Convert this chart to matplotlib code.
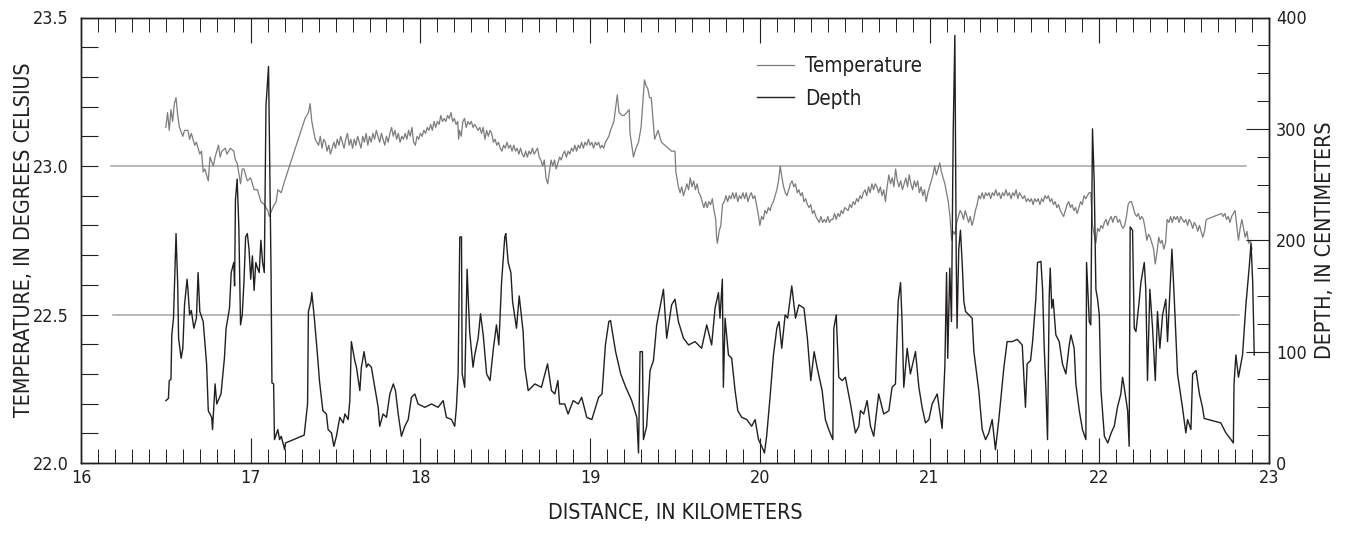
import matplotlib
matplotlib.use("Agg")
from matplotlib import pyplot as plt
from matplotlib import font_manager
from matplotlib.ticker import MultipleLocator

# temperature trace as (km, deg C)
temp_points = [
    (16.50, 23.13), (16.51, 23.18), (16.52, 23.12), (16.53, 23.19), (16.54, 23.15), (16.55, 23.21),
    (16.56, 23.23), (16.57, 23.17), (16.58, 23.13), (16.60, 23.10), (16.61, 23.12), (16.63, 23.12),
    (16.64, 23.09), (16.65, 23.11), (16.67, 23.07), (16.68, 23.08), (16.70, 23.04), (16.71, 23.05),
    (16.72, 22.98), (16.73, 22.99), (16.75, 22.95), (16.76, 23.03), (16.78, 23.00), (16.79, 23.03),
    (16.81, 23.07), (16.82, 23.03), (16.83, 23.05), (16.85, 23.06), (16.86, 23.04), (16.88, 23.06),
    (16.90, 23.05), (16.91, 23.02), (16.92, 23.01), (16.94, 22.94), (16.95, 22.99), (16.96, 22.99),
    (16.98, 22.95), (17.00, 22.96), (17.02, 22.92), (17.04, 22.92), (17.06, 22.88), (17.08, 22.87),
    (17.10, 22.85), (17.11, 22.83), (17.13, 22.86), (17.15, 22.88), (17.16, 22.92), (17.18, 22.91),
    (17.20, 22.95), (17.32, 23.16), (17.34, 23.18), (17.35, 23.21), (17.36, 23.15), (17.38, 23.09),
    (17.40, 23.07), (17.41, 23.10), (17.42, 23.06), (17.43, 23.09), (17.44, 23.08), (17.45, 23.05),
    (17.46, 23.07), (17.47, 23.04), (17.48, 23.06), (17.49, 23.08), (17.50, 23.06), (17.51, 23.09),
    (17.52, 23.07), (17.53, 23.10), (17.54, 23.08), (17.55, 23.06), (17.56, 23.09), (17.57, 23.11),
    (17.58, 23.07), (17.59, 23.09), (17.60, 23.06), (17.61, 23.09), (17.62, 23.07), (17.63, 23.10),
    (17.64, 23.08), (17.65, 23.06), (17.66, 23.10), (17.67, 23.08), (17.68, 23.11), (17.69, 23.07),
    (17.70, 23.10), (17.71, 23.08), (17.72, 23.11), (17.73, 23.09), (17.74, 23.12), (17.75, 23.10),
    (17.76, 23.08), (17.77, 23.11), (17.78, 23.09), (17.79, 23.07), (17.80, 23.10), (17.81, 23.08),
    (17.82, 23.11), (17.83, 23.13), (17.84, 23.10), (17.85, 23.12), (17.86, 23.09), (17.87, 23.11),
    (17.88, 23.08), (17.89, 23.10), (17.90, 23.09), (17.91, 23.11), (17.92, 23.09), (17.93, 23.12),
    (17.94, 23.10), (17.95, 23.13), (17.96, 23.08), (17.97, 23.07), (17.98, 23.10), (17.99, 23.09),
    (18.00, 23.11), (18.01, 23.10), (18.02, 23.12), (18.03, 23.11), (18.04, 23.13), (18.05, 23.12),
    (18.06, 23.14), (18.07, 23.12), (18.08, 23.15), (18.09, 23.13), (18.10, 23.15), (18.11, 23.14),
    (18.12, 23.17), (18.13, 23.15), (18.14, 23.16), (18.15, 23.15), (18.16, 23.17), (18.17, 23.16),
    (18.18, 23.18), (18.19, 23.15), (18.20, 23.16), (18.21, 23.14), (18.22, 23.15), (18.225, 23.09),
    (18.23, 23.12), (18.24, 23.10), (18.25, 23.15), (18.26, 23.16), (18.27, 23.13), (18.28, 23.15),
    (18.29, 23.14), (18.30, 23.15), (18.31, 23.13), (18.32, 23.14), (18.33, 23.13), (18.34, 23.12),
    (18.35, 23.13), (18.36, 23.11), (18.37, 23.13), (18.38, 23.09), (18.39, 23.12), (18.40, 23.10),
    (18.41, 23.12), (18.42, 23.11), (18.43, 23.08), (18.44, 23.09), (18.45, 23.07), (18.46, 23.08),
    (18.47, 23.06), (18.48, 23.05), (18.49, 23.07), (18.50, 23.06), (18.51, 23.08), (18.52, 23.06),
    (18.53, 23.07), (18.54, 23.05), (18.55, 23.07), (18.56, 23.05), (18.57, 23.06), (18.58, 23.04),
    (18.59, 23.06), (18.60, 23.04), (18.61, 23.03), (18.62, 23.05), (18.63, 23.03), (18.64, 23.05),
    (18.65, 23.04), (18.66, 23.06), (18.67, 23.04), (18.68, 23.05), (18.69, 23.06), (18.70, 23.03),
    (18.71, 23.02), (18.72, 23.00), (18.73, 23.02), (18.74, 22.96), (18.75, 22.94), (18.76, 22.98),
    (18.77, 23.02), (18.78, 23.00), (18.79, 23.02), (18.80, 22.99), (18.81, 23.01), (18.82, 23.03),
    (18.83, 23.02), (18.84, 23.04), (18.85, 23.05), (18.86, 23.03), (18.87, 23.05), (18.88, 23.04),
    (18.89, 23.06), (18.90, 23.05), (18.91, 23.07), (18.92, 23.05), (18.93, 23.07), (18.94, 23.06),
    (18.95, 23.08), (18.96, 23.06), (18.97, 23.08), (18.98, 23.07), (18.99, 23.09), (19.00, 23.07),
    (19.01, 23.08), (19.02, 23.06), (19.03, 23.08), (19.04, 23.07), (19.05, 23.08), (19.06, 23.06),
    (19.07, 23.07), (19.08, 23.06), (19.09, 23.08), (19.10, 23.09), (19.11, 23.10), (19.12, 23.12),
    (19.14, 23.15), (19.16, 23.24), (19.17, 23.18), (19.19, 23.17), (19.20, 23.17), (19.23, 23.19),
    (19.235, 23.11), (19.255, 23.03), (19.27, 23.06), (19.285, 23.08), (19.30, 23.13), (19.32, 23.29),
    (19.33, 23.27), (19.34, 23.26), (19.35, 23.23), (19.36, 23.23), (19.38, 23.09), (19.40, 23.12),
    (19.42, 23.08), (19.44, 23.07), (19.46, 23.06), (19.48, 23.05), (19.50, 23.05), (19.505, 22.98),
    (19.52, 22.93), (19.53, 22.91), (19.54, 22.93), (19.55, 22.90), (19.56, 22.92), (19.57, 22.94),
    (19.58, 22.92), (19.59, 22.96), (19.60, 22.93), (19.61, 22.95), (19.62, 22.92), (19.63, 22.94),
    (19.64, 22.91), (19.65, 22.90), (19.66, 22.88), (19.67, 22.86), (19.68, 22.88), (19.69, 22.86),
    (19.70, 22.88), (19.71, 22.87), (19.72, 22.89), (19.73, 22.85), (19.74, 22.82), (19.745, 22.76),
    (19.75, 22.74), (19.76, 22.78), (19.77, 22.80), (19.78, 22.87), (19.79, 22.88), (19.80, 22.90),
    (19.81, 22.88), (19.82, 22.90), (19.83, 22.89), (19.84, 22.91), (19.85, 22.89), (19.86, 22.91),
    (19.87, 22.88), (19.88, 22.90), (19.89, 22.89), (19.90, 22.91), (19.91, 22.89), (19.92, 22.91),
    (19.93, 22.88), (19.94, 22.90), (19.95, 22.91), (19.96, 22.89), (19.97, 22.90), (19.98, 22.87),
    (19.99, 22.84), (20.00, 22.80), (20.01, 22.83), (20.02, 22.82), (20.03, 22.85), (20.04, 22.84),
    (20.05, 22.86), (20.06, 22.85), (20.07, 22.87), (20.08, 22.88), (20.09, 22.90), (20.10, 22.92),
    (20.11, 22.95), (20.12, 23.00), (20.13, 22.96), (20.14, 22.93), (20.15, 22.91), (20.16, 22.90),
    (20.17, 22.92), (20.18, 22.94), (20.19, 22.95), (20.20, 22.93), (20.21, 22.94), (20.22, 22.91),
    (20.23, 22.92), (20.24, 22.90), (20.25, 22.91), (20.26, 22.88), (20.27, 22.89), (20.28, 22.87),
    (20.29, 22.86), (20.30, 22.87), (20.31, 22.84), (20.32, 22.85), (20.33, 22.83), (20.34, 22.82),
    (20.35, 22.81), (20.36, 22.83), (20.37, 22.81), (20.38, 22.82), (20.39, 22.81), (20.40, 22.83),
    (20.41, 22.81), (20.42, 22.82), (20.43, 22.82), (20.44, 22.84), (20.45, 22.82), (20.46, 22.84),
    (20.47, 22.83), (20.48, 22.85), (20.49, 22.84), (20.50, 22.86), (20.52, 22.85), (20.53, 22.87),
    (20.54, 22.86), (20.55, 22.88), (20.56, 22.87), (20.57, 22.89), (20.58, 22.88), (20.59, 22.90),
    (20.60, 22.89), (20.61, 22.91), (20.62, 22.92), (20.63, 22.90), (20.64, 22.93), (20.65, 22.91),
    (20.66, 22.94), (20.67, 22.92), (20.68, 22.94), (20.69, 22.93), (20.70, 22.91), (20.71, 22.93),
    (20.72, 22.90), (20.73, 22.92), (20.74, 22.88), (20.75, 22.93), (20.76, 22.97), (20.77, 22.94),
    (20.78, 22.96), (20.79, 22.93), (20.80, 22.99), (20.81, 22.95), (20.82, 22.93), (20.83, 22.95),
    (20.84, 22.92), (20.85, 22.94), (20.86, 22.96), (20.87, 22.93), (20.88, 22.97), (20.89, 22.94),
    (20.90, 22.92), (20.91, 22.95), (20.92, 22.93), (20.93, 22.95), (20.94, 22.91), (20.95, 22.93),
    (20.96, 22.90), (20.97, 22.92), (20.98, 22.88), (20.99, 22.91), (21.00, 22.93), (21.01, 22.95),
    (21.02, 22.97), (21.03, 23.00), (21.04, 22.97), (21.05, 22.99), (21.06, 23.01), (21.07, 22.98),
    (21.08, 22.96), (21.09, 22.94), (21.10, 22.91), (21.11, 22.88), (21.12, 22.83), (21.13, 22.75),
    (21.14, 22.78), (21.15, 22.77), (21.16, 22.81), (21.17, 22.83), (21.18, 22.85), (21.19, 22.84),
    (21.20, 22.82), (21.21, 22.85), (21.22, 22.83), (21.23, 22.81), (21.24, 22.83), (21.25, 22.80),
    (21.26, 22.82), (21.27, 22.85), (21.28, 22.87), (21.29, 22.90), (21.30, 22.89), (21.31, 22.91),
    (21.32, 22.89), (21.33, 22.91), (21.34, 22.90), (21.35, 22.91), (21.36, 22.89), (21.37, 22.91),
    (21.38, 22.90), (21.39, 22.92), (21.40, 22.90), (21.41, 22.91), (21.42, 22.89), (21.43, 22.91),
    (21.44, 22.90), (21.45, 22.92), (21.46, 22.90), (21.47, 22.91), (21.48, 22.89), (21.49, 22.91),
    (21.50, 22.90), (21.51, 22.92), (21.52, 22.89), (21.53, 22.91), (21.54, 22.90), (21.55, 22.89),
    (21.56, 22.90), (21.57, 22.88), (21.58, 22.89), (21.59, 22.88), (21.60, 22.89), (21.61, 22.87),
    (21.62, 22.89), (21.63, 22.88), (21.64, 22.89), (21.65, 22.87), (21.66, 22.89), (21.67, 22.88),
    (21.68, 22.90), (21.69, 22.89), (21.70, 22.90), (21.71, 22.88), (21.72, 22.89), (21.73, 22.87),
    (21.74, 22.88), (21.75, 22.86), (21.76, 22.87), (21.77, 22.85), (21.78, 22.84), (21.79, 22.83),
    (21.80, 22.85), (21.81, 22.87), (21.82, 22.88), (21.83, 22.86), (21.84, 22.87), (21.85, 22.85),
    (21.86, 22.86), (21.87, 22.84), (21.88, 22.86), (21.89, 22.88), (21.90, 22.87), (21.91, 22.90),
    (21.92, 22.89), (21.93, 22.90), (21.94, 22.91), (21.95, 22.91), (21.96, 22.80), (21.97, 22.77),
    (21.98, 22.74), (21.99, 22.79), (22.00, 22.78), (22.01, 22.80), (22.02, 22.79), (22.03, 22.81),
    (22.04, 22.82), (22.05, 22.80), (22.06, 22.82), (22.07, 22.83), (22.08, 22.81), (22.09, 22.83),
    (22.10, 22.83), (22.11, 22.81), (22.12, 22.82), (22.13, 22.80), (22.14, 22.79), (22.15, 22.80),
    (22.16, 22.83), (22.17, 22.87), (22.18, 22.88), (22.19, 22.88), (22.20, 22.86), (22.21, 22.84),
    (22.22, 22.83), (22.23, 22.84), (22.24, 22.82), (22.25, 22.83), (22.26, 22.82), (22.27, 22.79),
    (22.28, 22.75), (22.29, 22.77), (22.30, 22.76), (22.31, 22.74), (22.32, 22.72), (22.33, 22.67),
    (22.34, 22.71), (22.35, 22.76), (22.36, 22.74), (22.37, 22.75), (22.38, 22.72), (22.39, 22.74),
    (22.40, 22.82), (22.41, 22.81), (22.42, 22.83), (22.43, 22.81), (22.44, 22.83), (22.45, 22.82),
    (22.46, 22.83), (22.47, 22.81), (22.48, 22.83), (22.49, 22.82), (22.50, 22.81), (22.51, 22.82),
    (22.52, 22.80), (22.53, 22.82), (22.54, 22.81), (22.55, 22.79), (22.56, 22.81), (22.57, 22.80),
    (22.58, 22.78), (22.59, 22.80), (22.60, 22.78), (22.61, 22.76), (22.62, 22.78), (22.63, 22.82),
    (22.72, 22.84), (22.73, 22.83), (22.74, 22.84), (22.75, 22.82), (22.76, 22.83), (22.77, 22.81),
    (22.78, 22.83), (22.79, 22.84), (22.80, 22.85), (22.81, 22.80), (22.82, 22.75), (22.83, 22.79),
    (22.84, 22.82), (22.85, 22.79), (22.86, 22.76), (22.87, 22.78), (22.88, 22.74), (22.89, 22.75),
    (22.90, 22.72),
]

# depth trace as (km, cm)
depth_points = [
    (16.50, 56), (16.515, 58), (16.52, 74), (16.53, 75), (16.535, 115), (16.545, 130), (16.56, 206),
    (16.57, 159), (16.575, 112), (16.59, 94), (16.60, 103), (16.61, 142), (16.625, 165), (16.63, 156),
    (16.64, 133), (16.65, 137), (16.665, 121), (16.68, 130), (16.69, 171), (16.70, 136), (16.72, 127),
    (16.74, 89), (16.75, 47), (16.77, 41), (16.775, 30), (16.79, 71), (16.80, 53), (16.825, 62),
    (16.845, 94), (16.855, 121), (16.875, 139), (16.885, 171), (16.90, 180), (16.905, 159), (16.91, 236),
    (16.92, 255), (16.93, 212), (16.94, 124), (16.95, 133), (16.96, 162), (16.97, 203), (16.98, 206),
    (16.99, 192), (17.00, 165), (17.01, 186), (17.02, 155), (17.03, 180), (17.04, 175), (17.05, 171),
    (17.06, 200), (17.07, 180), (17.08, 171), (17.09, 321), (17.105, 356), (17.12, 168), (17.125, 72),
    (17.135, 71), (17.14, 21), (17.16, 30), (17.17, 21), (17.18, 24), (17.20, 12), (17.205, 18),
    (17.315, 25), (17.335, 53), (17.34, 136), (17.355, 145), (17.36, 153), (17.375, 130), (17.395, 94),
    (17.405, 74), (17.425, 47), (17.446, 44), (17.456, 30), (17.476, 27), (17.49, 15), (17.505, 24),
    (17.525, 41), (17.545, 36), (17.555, 44), (17.574, 39), (17.584, 56), (17.593, 109), (17.613, 92),
    (17.623, 86), (17.643, 65), (17.652, 86), (17.668, 100), (17.682, 86), (17.692, 89), (17.711, 86),
    (17.731, 68), (17.751, 50), (17.76, 33), (17.78, 44), (17.80, 41), (17.82, 62), (17.84, 71),
    (17.853, 65), (17.869, 44), (17.888, 24), (17.908, 33), (17.928, 39), (17.947, 59), (17.967, 62),
    (17.986, 53), (18.026, 50), (18.065, 53), (18.104, 50), (18.134, 56), (18.153, 41), (18.183, 39),
    (18.202, 33), (18.212, 50), (18.222, 80), (18.232, 203), (18.242, 203), (18.246, 80), (18.261, 68),
    (18.275, 174), (18.29, 118), (18.31, 86), (18.32, 97), (18.34, 112), (18.354, 134), (18.37, 115),
    (18.39, 80), (18.41, 74), (18.43, 103), (18.448, 124), (18.462, 106), (18.478, 162), (18.497, 203),
    (18.503, 206), (18.517, 180), (18.533, 171), (18.543, 145), (18.566, 121), (18.582, 150),
    (18.605, 118), (18.615, 86), (18.635, 65), (18.655, 68), (18.674, 71), (18.713, 68), (18.749, 89),
    (18.772, 65), (18.792, 62), (18.81, 74), (18.82, 53), (18.85, 53), (18.87, 44), (18.90, 56),
    (18.93, 53), (18.95, 59), (18.98, 41), (19.01, 39), (19.05, 59), (19.07, 62), (19.09, 106),
    (19.11, 127), (19.12, 128), (19.15, 100), (19.18, 80), (19.21, 68), (19.245, 56), (19.275, 41),
    (19.285, 9), (19.294, 100), (19.308, 100), (19.314, 21), (19.333, 33), (19.353, 83), (19.373, 92),
    (19.392, 124), (19.418, 145), (19.432, 156), (19.451, 112), (19.48, 142), (19.50, 147), (19.52, 127),
    (19.55, 112), (19.58, 106), (19.618, 109), (19.657, 103), (19.687, 124), (19.716, 106), (19.736, 139),
    (19.756, 153), (19.765, 130), (19.779, 165), (19.785, 68), (19.795, 130), (19.815, 97), (19.834, 94),
    (19.854, 65), (19.87, 47), (19.893, 41), (19.923, 39), (19.952, 33), (19.972, 39), (19.992, 21),
    (20.011, 15), (20.027, 9), (20.04, 24), (20.06, 59), (20.08, 97), (20.10, 121), (20.113, 127),
    (20.129, 103), (20.149, 133), (20.164, 130), (20.188, 159), (20.21, 130), (20.23, 142), (20.26, 139),
    (20.28, 112), (20.30, 74), (20.32, 100), (20.337, 86), (20.367, 65), (20.386, 39), (20.406, 30),
    (20.43, 21), (20.436, 121), (20.45, 133), (20.465, 77), (20.485, 74), (20.504, 77), (20.534, 53),
    (20.563, 27), (20.583, 33), (20.593, 47), (20.612, 44), (20.632, 56), (20.652, 33), (20.671, 24),
    (20.70, 62), (20.73, 44), (20.76, 47), (20.779, 68), (20.799, 71), (20.815, 145), (20.829, 162),
    (20.838, 127), (20.848, 68), (20.868, 103), (20.887, 80), (20.917, 100), (20.937, 68), (20.956, 50),
    (20.976, 36), (20.996, 39), (21.015, 53), (21.045, 62), (21.074, 31), (21.09, 86), (21.10, 171),
    (21.107, 94), (21.119, 175), (21.129, 127), (21.139, 295), (21.149, 384), (21.157, 183), (21.162, 121),
    (21.172, 192), (21.182, 209), (21.192, 180), (21.202, 145), (21.212, 136), (21.251, 130), (21.261, 100),
    (21.29, 65), (21.31, 30), (21.33, 21), (21.349, 27), (21.369, 39), (21.388, 12), (21.408, 39),
    (21.438, 86), (21.457, 109), (21.487, 109), (21.516, 111), (21.546, 106), (21.565, 50), (21.575, 89),
    (21.595, 92), (21.607, 109), (21.626, 147), (21.636, 180), (21.656, 181), (21.666, 156), (21.675, 106),
    (21.685, 68), (21.695, 21), (21.705, 150), (21.711, 175), (21.72, 139), (21.728, 147), (21.744, 115),
    (21.764, 109), (21.783, 89), (21.803, 80), (21.823, 106), (21.833, 115), (21.852, 103), (21.862, 71),
    (21.882, 47), (21.901, 30), (21.921, 21), (21.925, 180), (21.941, 127), (21.95, 124), (21.96, 300),
    (21.97, 253), (21.98, 156), (21.99, 147), (22.00, 133), (22.01, 65), (22.03, 24), (22.05, 18),
    (22.07, 27), (22.088, 33), (22.107, 50), (22.127, 62), (22.137, 77), (22.147, 68), (22.167, 47),
    (22.176, 15), (22.182, 212), (22.196, 209), (22.206, 121), (22.216, 118), (22.235, 145), (22.245, 162),
    (22.265, 180), (22.274, 156), (22.284, 74), (22.298, 156), (22.314, 121), (22.33, 74), (22.343, 136),
    (22.357, 103), (22.373, 133), (22.392, 147), (22.402, 109), (22.428, 192), (22.442, 147), (22.461, 80),
    (22.49, 50), (22.51, 27), (22.52, 39), (22.54, 30), (22.55, 80), (22.57, 83), (22.59, 62),
    (22.608, 50), (22.618, 40), (22.716, 36), (22.746, 27), (22.776, 21), (22.79, 18), (22.794, 71),
    (22.805, 97), (22.82, 77), (22.844, 97), (22.864, 142), (22.884, 177), (22.894, 197), (22.904, 162),
    (22.913, 97),
]

temp_km, temp_c = zip(*temp_points)
depth_km, depth_cm = zip(*depth_points)

# reference lines on the temperature axis
ref_levels = [23.0, 22.5]
ref_start = [16.177, 16.189]
ref_end = [22.865, 22.824]

# pick a narrow sans if one is installed
fonts = font_manager.fontManager.ttflist
names = {f.name for f in fonts}
stretch = "normal"
if "Liberation Sans Narrow" in names:
    fam, k = "Liberation Sans Narrow", 1.0
elif any(f.name == "DejaVu Sans" and f.stretch == "condensed" for f in fonts):
    fam, k, stretch = "DejaVu Sans", 0.9, "condensed"
else:
    fam, k = "Liberation Sans", 0.84
plt.rcParams["font.family"] = [fam, "DejaVu Sans"]
plt.rcParams["font.stretch"] = stretch

ink = "#231f20"
fig = plt.figure(figsize=(13.46, 5.33), dpi=100)
ax = fig.add_axes([81 / 1346, 1 - 463 / 533, 1188 / 1346, 445.5 / 533])
ax2 = ax.twinx()

for lvl, a, b in zip(ref_levels, ref_start, ref_end):
    ax.plot([a, b], [lvl, lvl], color="#a6a6a6", lw=1.1, zorder=1)

ax.plot(temp_km, temp_c, color="#7c7c7c", lw=0.9, label="Temperature", zorder=2)
ax2.plot(depth_km, depth_cm, color=ink, lw=1.0, label="Depth", zorder=3)

ax.set_xlim(16, 23)
ax.set_ylim(22.0, 23.5)
ax2.set_ylim(0, 400)

ax.xaxis.set_major_locator(MultipleLocator(1))
ax.xaxis.set_minor_locator(MultipleLocator(0.1))
ax.yaxis.set_major_locator(MultipleLocator(0.5))
ax.yaxis.set_minor_locator(MultipleLocator(0.1))
ax.yaxis.set_major_formatter(plt.FormatStrFormatter("%.1f"))
ax2.yaxis.set_major_locator(MultipleLocator(100))
ax2.yaxis.set_minor_locator(MultipleLocator(25))

tick_fs = 14.3 * k
ax.tick_params(axis="x", which="major", direction="in", length=18, width=0.8, top=True,
               labelsize=tick_fs, pad=4.5, colors=ink)
ax.tick_params(axis="x", which="minor", direction="in", length=10, width=0.7, top=True, colors=ink)
ax.tick_params(axis="y", which="both", direction="in", length=12, width=0.8, right=False,
               labelsize=tick_fs, pad=9, colors=ink)
ax2.tick_params(axis="y", which="major", direction="in", length=16.5, width=0.8,
                labelsize=tick_fs, pad=5, colors=ink)
ax2.tick_params(axis="y", which="minor", direction="in", length=8.5, width=0.7, colors=ink)

for a in (ax, ax2):
    for s in a.spines.values():
        s.set_linewidth(1.0)
        s.set_color(ink)

h1, l1 = ax.get_legend_handles_labels()
h2, l2 = ax2.get_legend_handles_labels()
ax2.legend(h1 + h2, l1 + l2, loc="upper left", bbox_to_anchor=(0.569, 0.913), frameon=False,
           fontsize=16.5 * k, handlelength=1.8, handletextpad=0.55, labelspacing=0.6,
           borderpad=0, borderaxespad=0, labelcolor=ink)

fig.text(675 / 1346, 1 - 513 / 533, "DISTANCE, IN KILOMETERS", ha="center", va="center",
         fontsize=17 * k, color=ink)
fig.text(24 / 1346, 1 - 240 / 533, "TEMPERATURE, IN DEGREES CELSIUS", ha="center", va="center",
         rotation=90, fontsize=17 * k, color=ink)
fig.text(1325 / 1346, 1 - 240 / 533, "DEPTH, IN CENTIMETERS", ha="center", va="center",
         rotation=90, fontsize=17 * k, color=ink)

fig.savefig("out.png", dpi=100)
